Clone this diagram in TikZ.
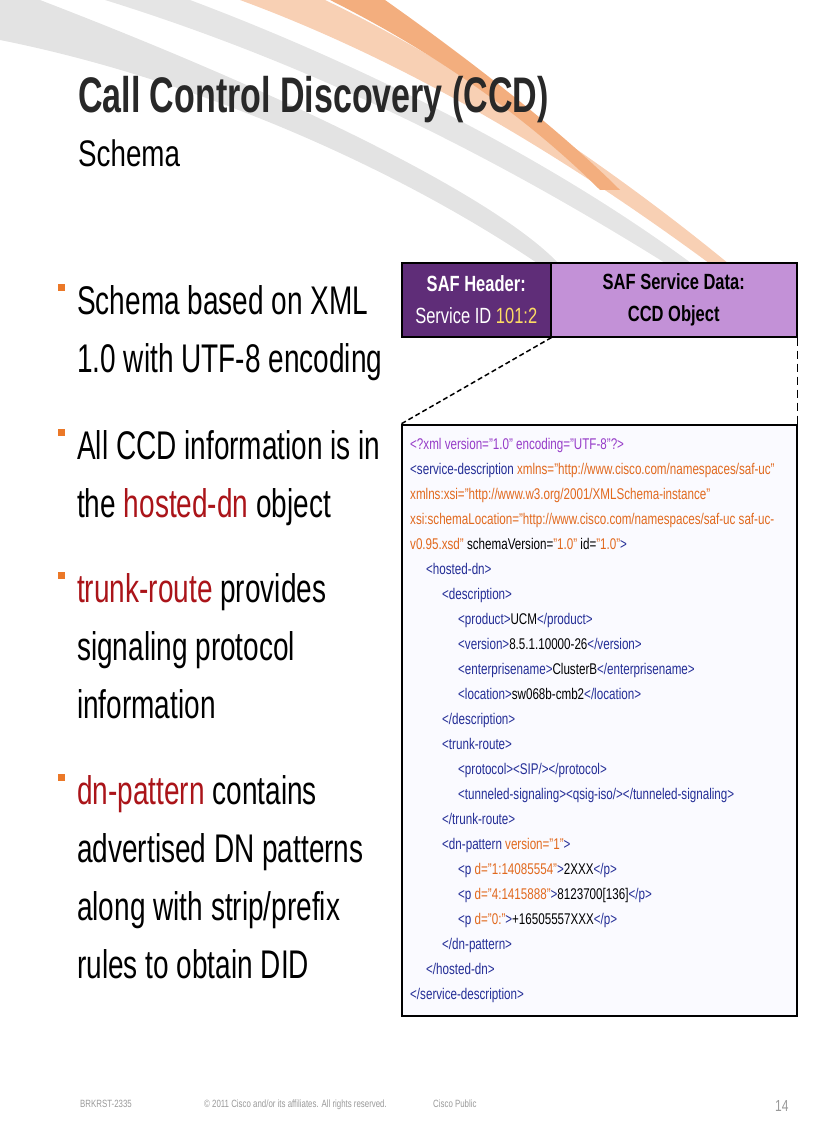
\documentclass[tikz,border=0pt]{standalone}
\usepackage{fontspec}
\setmainfont{Liberation Sans}[FakeStretch=0.75]
\newfontfamily\boldn{Liberation Sans Bold}[FakeStretch=0.75]
\newfontfamily\boldt{Liberation Sans Bold}[FakeStretch=0.68]
\newfontfamily\bulf{Liberation Sans}[FakeStretch=0.7]
\usetikzlibrary{calc}
\definecolor{tagc}{RGB}{35,45,150}
\definecolor{attc}{RGB}{225,105,30}
\definecolor{declc}{RGB}{150,60,200}
\definecolor{redc}{RGB}{170,20,25}
\definecolor{orgb}{RGB}{235,120,40}
\definecolor{darkp}{RGB}{95,45,120}
\definecolor{lightp}{RGB}{195,145,215}
\definecolor{titc}{RGB}{40,40,40}
\newcommand\Tg[1]{\textcolor{tagc}{#1}}
\newcommand\At[1]{\textcolor{attc}{#1}}
\begin{document}
\begin{tikzpicture}[x=1pt,y=-1pt,
  xl/.style={anchor=base west,inner sep=0,font=\fontsize{15.5}{16}\selectfont},
  bul/.style={anchor=north west,inner sep=0,font=\bulf\fontsize{40}{58}\selectfont,align=left},
  foot/.style={anchor=base west,inner sep=0,text=gray!80,font=\fontsize{10.5}{11}\selectfont}]
\useasboundingbox (0,0) rectangle (816,1123);
% swooshes
\fill[gray!22] (0,0) -- (40,0) .. controls (300,100) and (500,200) .. (560,265) -- (540,265) .. controls (400,170) and (200,80) .. (0,40) -- cycle;
\fill[gray!25,opacity=0.8] (105,0) -- (190,0) .. controls (350,60) and (560,160) .. (720,285) -- (700,285) .. controls (520,170) and (330,70) .. (105,0) -- cycle;
\fill[orgb!35] (240,0) -- (325,0) .. controls (450,60) and (620,170) .. (760,290) -- (745,290) .. controls (600,180) and (430,70) .. (240,0) -- cycle;
\fill[orgb!60] (330,0) -- (385,0) .. controls (470,60) and (560,130) .. (620,190) -- (600,190) .. controls (540,130) and (450,60) .. (330,0) -- cycle;
% title
\node[anchor=base west,inner sep=0,text=titc,font=\boldt\fontsize{50}{50}\selectfont] (title) at (78,113) {Call Control Discovery (CCD)};
\node[anchor=base west,inner sep=0,font=\fontsize{37}{37}\selectfont] (sub) at (78,167) {Schema};
% bullets
\foreach \y in {300,445,588,790}{\fill[orgb] (58,\y-16) rectangle (65,\y-9);}
\node[bul] (b1) at (77,285) {Schema based on XML\\1.0 with UTF-8 encoding};
\node[bul] (b2) at (77,430) {All CCD information is in\\the \textcolor{redc}{hosted-dn} object};
\node[bul] (b3) at (77,573) {\textcolor{redc}{trunk-route} provides\\signaling protocol\\information};
\node[bul] (b4) at (77,775) {\textcolor{redc}{dn-pattern} contains\\advertised DN patterns\\along with strip/prefix\\rules to obtain DID};
% header boxes
\node[draw=black,line width=1.5,fill=darkp,minimum width=149,minimum height=74,inner sep=0,anchor=north west,align=center,text=white,font=\fontsize{22}{32}\selectfont] (hdr) at (401,262) {{\boldn SAF Header:}\\Service ID \textcolor{yellow!60!orange!60}{101:2}};
\node[draw=black,line width=1.5,fill=lightp,minimum width=246,minimum height=74,inner sep=0,anchor=north west,align=center,font=\boldn\fontsize{22}{32}\selectfont] (dat) at (550,262) {SAF Service Data:\\CCD Object};
% xml box
\node[draw=black,line width=1.5,fill=blue!2,minimum width=395,minimum height=591,inner sep=0,anchor=north west] (xml) at (401,424) {};
\draw[line width=1.5,dash pattern=on 5pt off 3pt] (hdr.south east) -- (xml.north west);
\draw[dash pattern=on 8pt off 5pt,line width=1] (dat.south east) -- (xml.north east);
\def\L{410}
\node[xl] (l1) at (\L,449) {\textcolor{declc}{<?xml version="1.0" encoding="UTF-8"?>}};
\node[xl] (l2) at (\L,474) {\Tg{<service-description} \At{xmlns="http://www.cisco.com/namespaces/saf-uc"}};
\node[xl] (l3) at (\L,499) {\At{xmlns:xsi="http://www.w3.org/2001/XMLSchema-instance"}};
\node[xl] (l4) at (\L,524) {\At{xsi:schemaLocation="http://www.cisco.com/namespaces/saf-uc saf-uc-}};
\node[xl] (l5) at (\L,549) {\At{v0.95.xsd"} schemaVersion=\At{"1.0"} id=\At{"1.0"}\Tg{>}};
\node[xl] (l6) at (\L+16,574) {\Tg{<hosted-dn>}};
\node[xl] (l7) at (\L+32,599) {\Tg{<description>}};
\node[xl] (l8) at (\L+48,624) {\Tg{<product>}UCM\Tg{</product>}};
\node[xl] (l9) at (\L+48,649) {\Tg{<version>}8.5.1.10000-26\Tg{</version>}};
\node[xl] (l10) at (\L+48,674) {\Tg{<enterprisename>}ClusterB\Tg{</enterprisename>}};
\node[xl] (l11) at (\L+48,699) {\Tg{<location>}sw068b-cmb2\Tg{</location>}};
\node[xl] (l12) at (\L+32,724) {\Tg{</description>}};
\node[xl] (l13) at (\L+32,749) {\Tg{<trunk-route>}};
\node[xl] (l14) at (\L+48,774) {\Tg{<protocol><SIP/></protocol>}};
\node[xl] (l15) at (\L+48,799) {\Tg{<tunneled-signaling><qsig-iso/></tunneled-signaling>}};
\node[xl] (l16) at (\L+32,824) {\Tg{</trunk-route>}};
\node[xl] (l17) at (\L+32,849) {\Tg{<dn-pattern} \At{version="1"}\Tg{>}};
\node[xl] (l18) at (\L+48,874) {\Tg{<p} \At{d="1:14085554"}\Tg{>}2XXX\Tg{</p>}};
\node[xl] (l19) at (\L+48,899) {\Tg{<p} \At{d="4:1415888"}\Tg{>}8123700[136]\Tg{</p>}};
\node[xl] (l20) at (\L+48,924) {\Tg{<p} \At{d="0:"}\Tg{>}+16505557XXX\Tg{</p>}};
\node[xl] (l21) at (\L+32,949) {\Tg{</dn-pattern>}};
\node[xl] (l22) at (\L+16,974) {\Tg{</hosted-dn>}};
\node[xl] (l23) at (\L,999) {\Tg{</service-description>}};
% footer
\node[foot] (f1) at (80,1107) {BRKRST-2335};
\node[foot] (f2) at (204,1107) {© 2011 Cisco and/or its affiliates. All rights reserved.};
\node[foot] (f3) at (433,1107) {Cisco Public};
\node[foot,font=\fontsize{16}{16}\selectfont] (f4) at (775,1111) {14};
\end{tikzpicture}
\end{document}
